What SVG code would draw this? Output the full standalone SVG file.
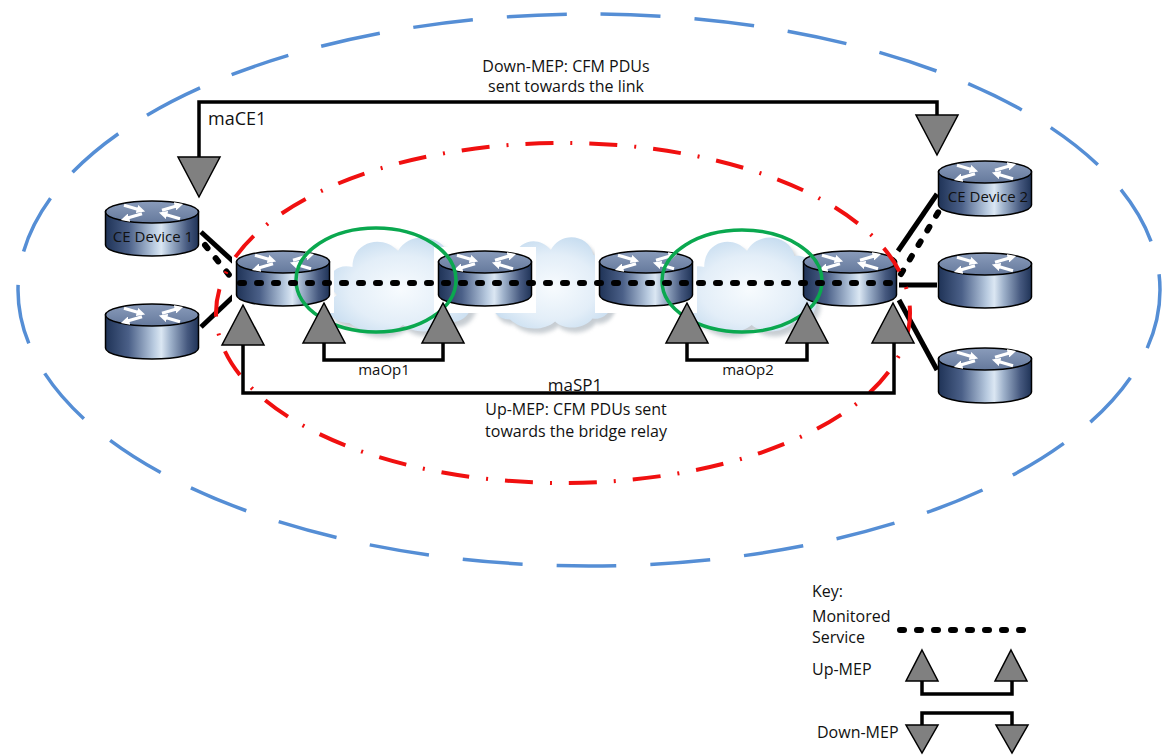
<svg xmlns="http://www.w3.org/2000/svg" xmlns:xlink="http://www.w3.org/1999/xlink" width="1164" height="755" viewBox="0 0 1164 755">
  <style>
    text { font-family: "Open Sans", "Liberation Sans", sans-serif; fill: #111; }
    .lbl { font-size: 15px; }
    .lbl16 { font-size: 16px; }
    .mid { text-anchor: middle; }
    .link { stroke: #000; stroke-width: 5; fill: none; }
    .svc { stroke: #000; stroke-width: 6; fill: none; stroke-dasharray: 4 13; stroke-linecap: round; }
    .ma { stroke: #000; stroke-width: 3.5; fill: none; }
    .mep { fill: #808080; stroke: #000; stroke-width: 1.5; stroke-linejoin: miter; }
    .domain-ce { fill: none; stroke: #558ed5; stroke-width: 3.5; stroke-dasharray: 60 34; }
    .domain-sp { fill: none; stroke: #f01010; stroke-width: 4; stroke-dasharray: 28 17 2 17; }
    .domain-op { fill: none; stroke: #0aa84f; stroke-width: 3.5; }
  </style>
  <defs>
    <linearGradient id="bodyGrad" x1="0" y1="0" x2="1" y2="0">
      <stop offset="0" stop-color="#1f3357"/>
      <stop offset="0.25" stop-color="#4b6088"/>
      <stop offset="0.52" stop-color="#b9cbe0"/>
      <stop offset="0.6" stop-color="#dbe7f3"/>
      <stop offset="0.7" stop-color="#9fb2cb"/>
      <stop offset="0.88" stop-color="#46597f"/>
      <stop offset="1" stop-color="#1f3357"/>
    </linearGradient>
    <linearGradient id="topGrad" x1="0" y1="0" x2="0" y2="1">
      <stop offset="0" stop-color="#8a9cbb"/>
      <stop offset="1" stop-color="#65799c"/>
    </linearGradient>
    <radialGradient id="cloudGrad" cx="0.5" cy="0.55" r="0.6">
      <stop offset="0" stop-color="#f7fbfe"/>
      <stop offset="0.6" stop-color="#e3eef8"/>
      <stop offset="1" stop-color="#c4dbef"/>
    </radialGradient>
    <filter id="soft" x="-10%" y="-10%" width="120%" height="130%">
      <feGaussianBlur stdDeviation="2"/>
    </filter>
    <marker id="wa" viewBox="0 0 10 10" refX="5" refY="5" markerWidth="8.5" markerHeight="8.5" markerUnits="userSpaceOnUse" orient="auto">
      <path d="M0,0 L10,5 L0,10 z" fill="#fff"/>
    </marker>
    <!-- router cylinder with crossed arrows on top -->
    <symbol id="router" viewBox="0 0 96 58" overflow="visible">
      <path d="M1.5,12 V45 A46.5,11 0 0 0 94.5,45 V12 Z" fill="url(#bodyGrad)" stroke="#000" stroke-width="1.5"/>
      <ellipse cx="48" cy="12" rx="46.5" ry="11" fill="url(#topGrad)" stroke="#000" stroke-width="1.5"/>
      <g stroke="#fff" stroke-width="3.2" fill="none" marker-end="url(#wa)">
        <path d="M20,5.2 L37,10.2"/>
        <path d="M76,18.8 L59,13.8"/>
        <path d="M58,10.2 L75,5.2"/>
        <path d="M38,13.8 L21,18.8"/>
      </g>
    </symbol>
    <!-- cloud shape -->
    <symbol id="cloud" viewBox="0 0 160 110" preserveAspectRatio="none" overflow="visible">
      <path d="M33,97 C12,97 6,78 21,69 C6,56 16,36 36,41 C36,15 66,8 81,25 C92,5 126,8 131,30 C151,28 161,50 149,62 C162,76 150,99 130,96 C120,108 96,108 86,99 C72,110 46,108 33,97 Z" transform="translate(4,5)" fill="#9aa4ae" opacity="0.55" filter="url(#soft)"/>
      <path d="M33,97 C12,97 6,78 21,69 C6,56 16,36 36,41 C36,15 66,8 81,25 C92,5 126,8 131,30 C151,28 161,50 149,62 C162,76 150,99 130,96 C120,108 96,108 86,99 C72,110 46,108 33,97 Z" fill="url(#cloudGrad)"/>
    </symbol>
    <path id="upMep" d="M0,0 L21,40 L-21,40 Z"/>
    <path id="downMep" d="M-21,0 L21,0 L0,40 Z"/>
  </defs>

  <rect width="1164" height="755" fill="#fff"/>

  <!-- customer maintenance domain -->
  <ellipse id="domain-ce" class="domain-ce" cx="589" cy="290" rx="571" ry="276"/>

  <!-- operator clouds -->
  <g id="clouds">
    <use href="#cloud" x="316" y="226" width="162" height="110"/>
    <use href="#cloud" x="482" y="226" width="136" height="106"/>
    <use href="#cloud" x="670" y="226" width="152" height="110"/>
  </g>

  <!-- connectors -->
  <g id="connectors">
    <path class="link" d="M201,232 L236,264"/>
    <path class="svc" d="M205,245 L234,281"/>
    <path class="link" d="M201,327 L236,294"/>
    <path class="link" d="M898,251 L937,194"/>
    <path class="svc" d="M901,274 L939,211"/>
    <path class="link" d="M899,285 H937"/>
    <path class="link" d="M899,300 L937,370"/>
  </g>

  <!-- nodes -->
  <g id="ce1">
    <use href="#router" x="104" y="200" width="96" height="58"/>
    <text class="lbl mid" x="153" y="242">CE Device 1</text>
  </g>
  <g id="ce1b">
    <use href="#router" x="104" y="303" width="96" height="58"/>
  </g>
  <g id="pe1">
    <rect x="232" y="247" width="102" height="66" fill="#fff"/>
    <use href="#router" x="235" y="250" width="96" height="58"/>
  </g>
  <g id="p1">
    <rect x="434" y="247" width="102" height="66" fill="#fff"/>
    <use href="#router" x="437" y="250" width="96" height="58"/>
  </g>
  <g id="p2">
    <rect x="595" y="247" width="102" height="66" fill="#fff"/>
    <use href="#router" x="598" y="250" width="96" height="58"/>
  </g>
  <g id="pe2">
    <use href="#router" x="802" y="250" width="96" height="58"/>
  </g>
  <g id="ce2">
    <use href="#router" x="937" y="160" width="96" height="58"/>
    <text class="lbl mid" x="988" y="202">CE Device 2</text>
  </g>
  <g id="ce2b">
    <use href="#router" x="937" y="252" width="96" height="58"/>
  </g>
  <g id="ce2c">
    <use href="#router" x="937" y="347" width="96" height="58"/>
  </g>

  <!-- operator and provider domains -->
  <ellipse id="domain-op1" class="domain-op" cx="376" cy="280" rx="80" ry="52"/>
  <ellipse id="domain-op2" class="domain-op" cx="742" cy="281" rx="80" ry="51"/>
  <ellipse id="domain-sp" class="domain-sp" cx="563" cy="313" rx="347" ry="170"/>

  <!-- monitored service -->
  <path class="svc" d="M240,283 H898"/>

  <!-- maintenance associations -->
  <g id="ma-links">
    <path class="ma" d="M199,160 V102 H937 V117"/>
    <path class="ma" d="M243,343 V393 H894 V341"/>
    <path class="ma" d="M324,341 V360 H443 V341"/>
    <path class="ma" d="M687,341 V360 H807 V341"/>
  </g>
  <g id="meps">
    <use href="#downMep" class="mep" x="199" y="157"/>
    <use href="#downMep" class="mep" x="937" y="115"/>
    <use href="#upMep" class="mep" x="243" y="305"/>
    <use href="#upMep" class="mep" x="324" y="303"/>
    <use href="#upMep" class="mep" x="443" y="303"/>
    <use href="#upMep" class="mep" x="687" y="303"/>
    <use href="#upMep" class="mep" x="807" y="303"/>
    <use href="#upMep" class="mep" x="893" y="303"/>
  </g>

  <!-- labels -->
  <text class="lbl16 mid" x="566" y="72">Down-MEP: CFM PDUs</text>
  <text class="lbl16 mid" x="566" y="92">sent towards the link</text>
  <text x="208" y="125" font-size="18">maCE1</text>
  <text class="lbl mid" x="384" y="375">maOp1</text>
  <text class="lbl mid" x="748" y="375">maOp2</text>
  <text class="mid" x="575" y="391" font-size="17">maSP1</text>
  <text class="lbl16 mid" x="576" y="415">Up-MEP: CFM PDUs sent</text>
  <text class="lbl16 mid" x="576" y="437">towards the bridge relay</text>

  <!-- key -->
  <g id="key">
    <text class="lbl16" x="812" y="597">Key:</text>
    <text class="lbl16" x="812" y="622">Monitored</text>
    <text class="lbl16" x="812" y="643">Service</text>
    <path class="svc" d="M900,630 H1027"/>
    <text class="lbl16" x="812" y="675">Up-MEP</text>
    <path class="ma" d="M922,680 V694 H1012 V680"/>
    <path class="mep" d="M922,650 L938,681 L906,681 Z"/>
    <path class="mep" d="M1011,650 L1027,681 L995,681 Z"/>
    <text class="lbl16" x="817" y="738">Down-MEP</text>
    <path class="ma" d="M922,726 V713 H1012 V726"/>
    <path class="mep" d="M906,725 L938,725 L922,753 Z"/>
    <path class="mep" d="M996,725 L1028,725 L1012,753 Z"/>
  </g>
</svg>
